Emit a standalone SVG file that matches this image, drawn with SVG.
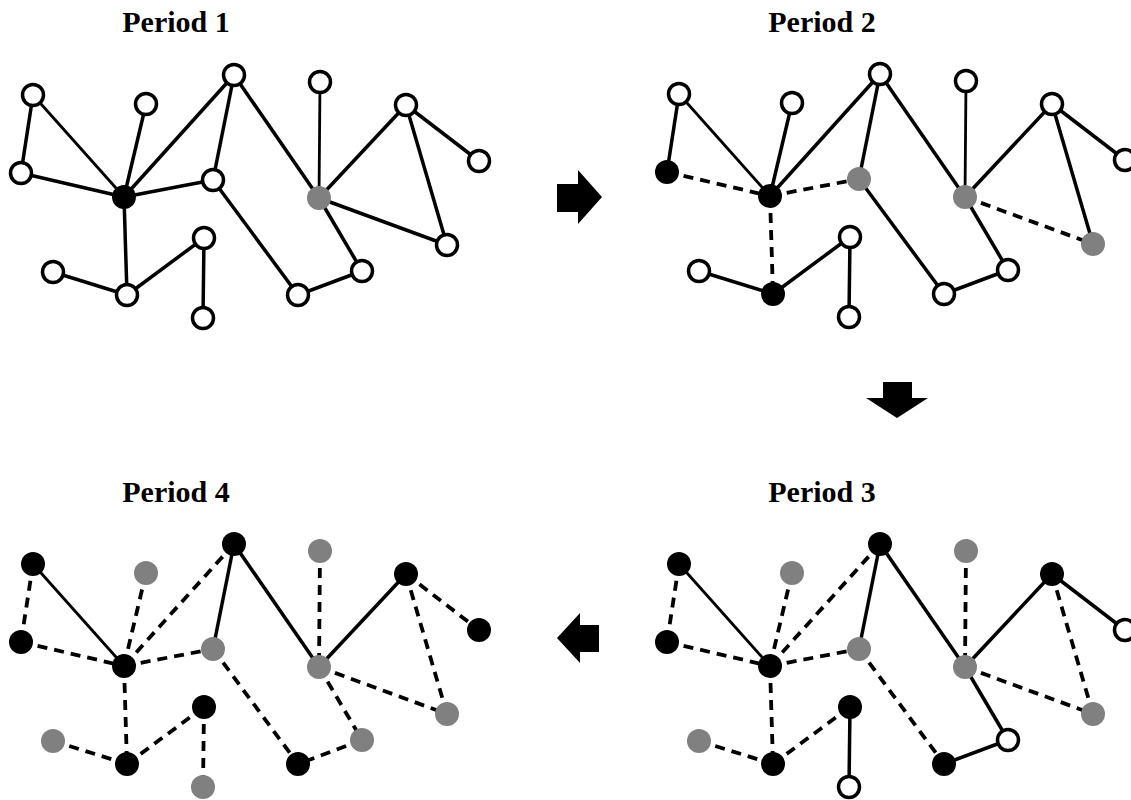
<svg xmlns="http://www.w3.org/2000/svg" width="1131" height="800" viewBox="0 0 1131 800">
<style>
.t{font-family:"Liberation Serif","Times New Roman",serif;font-weight:bold;font-size:30px;fill:#000;text-anchor:middle}
.e line{stroke:#000;stroke-width:3.5;stroke-linecap:butt}
.e line.d{stroke-dasharray:10,7;stroke-width:3.8}
.e line.th{stroke-width:2.8}
.w{fill:#fff;stroke:#000;stroke-width:3.5}
.k{fill:#000}
.g{fill:#808080}
.ar{fill:#000}
</style>
<rect width="1131" height="800" fill="#fff"/>
<text class="t" x="176" y="32">Period 1</text>
<text class="t" x="822" y="32">Period 2</text>
<text class="t" x="822" y="502">Period 3</text>
<text class="t" x="176" y="502">Period 4</text>
<g id="arrows">
<polygon class="ar" points="557,184 578,184 578,170 602,197 578,224 578,212 557,212"/>
<polygon class="ar" points="883,382 912,382 912,398 928,398 897,418 866,398 883,398"/>
<polygon class="ar" points="599,625 580,625 580,613 557,638 580,663 580,652 599,652"/>
</g>
<!-- Period 1 -->
<g id="period1">
<g id="p1-connectors" class="e">
<line x1="33" y1="95" x2="21" y2="173"/>
<line class="th" x1="33" y1="95" x2="124" y2="197"/>
<line x1="21" y1="173" x2="124" y2="197"/>
<line x1="146" y1="104" x2="124" y2="197"/>
<line x1="234" y1="75" x2="124" y2="197"/>
<line x1="234" y1="75" x2="213" y2="180"/>
<line x1="124" y1="197" x2="213" y2="180"/>
<line x1="124" y1="197" x2="127" y2="295"/>
<line x1="53" y1="272" x2="127" y2="295"/>
<line x1="127" y1="295" x2="204" y2="238"/>
<line x1="204" y1="238" x2="203" y2="318"/>
<line x1="234" y1="75" x2="319" y2="198"/>
<line x1="213" y1="180" x2="298" y2="295"/>
<line class="th" x1="320" y1="82" x2="319" y2="198"/>
<line x1="319" y1="198" x2="406" y2="105"/>
<line x1="319" y1="198" x2="447" y2="245"/>
<line x1="406" y1="105" x2="447" y2="245"/>
<line x1="406" y1="105" x2="479" y2="161"/>
<line x1="319" y1="198" x2="362" y2="271"/>
<line x1="362" y1="271" x2="298" y2="295"/>
</g>
<g id="p1-A"><circle class="w" cx="33" cy="95" r="10.5"/></g>
<g id="p1-B"><circle class="w" cx="146" cy="104" r="10.5"/></g>
<g id="p1-C"><circle class="w" cx="234" cy="75" r="10.5"/></g>
<g id="p1-D"><circle class="w" cx="21" cy="173" r="10.5"/></g>
<g id="p1-E"><circle class="k" cx="124" cy="197" r="12"/></g>
<g id="p1-F"><circle class="w" cx="213" cy="180" r="10.5"/></g>
<g id="p1-G"><circle class="w" cx="204" cy="238" r="10.5"/></g>
<g id="p1-H"><circle class="w" cx="53" cy="272" r="10.5"/></g>
<g id="p1-I"><circle class="w" cx="127" cy="295" r="10.5"/></g>
<g id="p1-J"><circle class="w" cx="203" cy="318" r="10.5"/></g>
<g id="p1-K"><circle class="w" cx="320" cy="82" r="10.5"/></g>
<g id="p1-L"><circle class="g" cx="319" cy="198" r="12"/></g>
<g id="p1-M"><circle class="w" cx="406" cy="105" r="10.5"/></g>
<g id="p1-N"><circle class="w" cx="479" cy="161" r="10.5"/></g>
<g id="p1-O"><circle class="w" cx="447" cy="245" r="10.5"/></g>
<g id="p1-P"><circle class="w" cx="362" cy="271" r="10.5"/></g>
<g id="p1-Q"><circle class="w" cx="298" cy="295" r="10.5"/></g>
</g>
<!-- Period 2 -->
<g id="period2" transform="translate(646,-1)">
<g id="p2-connectors" class="e">
<line x1="33" y1="95" x2="21" y2="173"/>
<line class="th" x1="33" y1="95" x2="124" y2="197"/>
<line class="d" x1="21" y1="173" x2="124" y2="197"/>
<line x1="146" y1="104" x2="124" y2="197"/>
<line x1="234" y1="75" x2="124" y2="197"/>
<line x1="234" y1="75" x2="213" y2="180"/>
<line class="d" x1="124" y1="197" x2="213" y2="180"/>
<line class="d" x1="124" y1="197" x2="127" y2="295"/>
<line x1="53" y1="272" x2="127" y2="295"/>
<line x1="127" y1="295" x2="204" y2="238"/>
<line x1="204" y1="238" x2="203" y2="318"/>
<line x1="234" y1="75" x2="319" y2="198"/>
<line x1="213" y1="180" x2="298" y2="295"/>
<line class="th" x1="320" y1="82" x2="319" y2="198"/>
<line x1="319" y1="198" x2="406" y2="105"/>
<line class="d" x1="319" y1="198" x2="447" y2="245"/>
<line x1="406" y1="105" x2="447" y2="245"/>
<line x1="406" y1="105" x2="479" y2="161"/>
<line x1="319" y1="198" x2="362" y2="271"/>
<line x1="362" y1="271" x2="298" y2="295"/>
</g>
<g id="p2-A"><circle class="w" cx="33" cy="95" r="10.5"/></g>
<g id="p2-B"><circle class="w" cx="146" cy="104" r="10.5"/></g>
<g id="p2-C"><circle class="w" cx="234" cy="75" r="10.5"/></g>
<g id="p2-D"><circle class="k" cx="21" cy="173" r="12"/></g>
<g id="p2-E"><circle class="k" cx="124" cy="197" r="12"/></g>
<g id="p2-F"><circle class="g" cx="213" cy="180" r="12"/></g>
<g id="p2-G"><circle class="w" cx="204" cy="238" r="10.5"/></g>
<g id="p2-H"><circle class="w" cx="53" cy="272" r="10.5"/></g>
<g id="p2-I"><circle class="k" cx="127" cy="295" r="12"/></g>
<g id="p2-J"><circle class="w" cx="203" cy="318" r="10.5"/></g>
<g id="p2-K"><circle class="w" cx="320" cy="82" r="10.5"/></g>
<g id="p2-L"><circle class="g" cx="319" cy="198" r="12"/></g>
<g id="p2-M"><circle class="w" cx="406" cy="105" r="10.5"/></g>
<g id="p2-N"><circle class="w" cx="479" cy="161" r="10.5"/></g>
<g id="p2-O"><circle class="g" cx="447" cy="245" r="12"/></g>
<g id="p2-P"><circle class="w" cx="362" cy="271" r="10.5"/></g>
<g id="p2-Q"><circle class="w" cx="298" cy="295" r="10.5"/></g>
</g>
<!-- Period 3 -->
<g id="period3" transform="translate(646,469)">
<g id="p3-connectors" class="e">
<line class="d" x1="33" y1="95" x2="21" y2="173"/>
<line class="th" x1="33" y1="95" x2="124" y2="197"/>
<line class="d" x1="21" y1="173" x2="124" y2="197"/>
<line class="d" x1="146" y1="104" x2="124" y2="197"/>
<line class="d" x1="234" y1="75" x2="124" y2="197"/>
<line x1="234" y1="75" x2="213" y2="180"/>
<line class="d" x1="124" y1="197" x2="213" y2="180"/>
<line class="d" x1="124" y1="197" x2="127" y2="295"/>
<line class="d" x1="53" y1="272" x2="127" y2="295"/>
<line class="d" x1="127" y1="295" x2="204" y2="238"/>
<line x1="204" y1="238" x2="203" y2="318"/>
<line x1="234" y1="75" x2="319" y2="198"/>
<line class="d" x1="213" y1="180" x2="298" y2="295"/>
<line class="d" x1="320" y1="82" x2="319" y2="198"/>
<line x1="319" y1="198" x2="406" y2="105"/>
<line class="d" x1="319" y1="198" x2="447" y2="245"/>
<line class="d" x1="406" y1="105" x2="447" y2="245"/>
<line x1="406" y1="105" x2="479" y2="161"/>
<line x1="319" y1="198" x2="362" y2="271"/>
<line x1="362" y1="271" x2="298" y2="295"/>
</g>
<g id="p3-A"><circle class="k" cx="33" cy="95" r="12"/></g>
<g id="p3-B"><circle class="g" cx="146" cy="104" r="12"/></g>
<g id="p3-C"><circle class="k" cx="234" cy="75" r="12"/></g>
<g id="p3-D"><circle class="k" cx="21" cy="173" r="12"/></g>
<g id="p3-E"><circle class="k" cx="124" cy="197" r="12"/></g>
<g id="p3-F"><circle class="g" cx="213" cy="180" r="12"/></g>
<g id="p3-G"><circle class="k" cx="204" cy="238" r="12"/></g>
<g id="p3-H"><circle class="g" cx="53" cy="272" r="12"/></g>
<g id="p3-I"><circle class="k" cx="127" cy="295" r="12"/></g>
<g id="p3-J"><circle class="w" cx="203" cy="318" r="10.5"/></g>
<g id="p3-K"><circle class="g" cx="320" cy="82" r="12"/></g>
<g id="p3-L"><circle class="g" cx="319" cy="198" r="12"/></g>
<g id="p3-M"><circle class="k" cx="406" cy="105" r="12"/></g>
<g id="p3-N"><circle class="w" cx="479" cy="161" r="10.5"/></g>
<g id="p3-O"><circle class="g" cx="447" cy="245" r="12"/></g>
<g id="p3-P"><circle class="w" cx="362" cy="271" r="10.5"/></g>
<g id="p3-Q"><circle class="k" cx="298" cy="295" r="12"/></g>
</g>
<!-- Period 4 -->
<g id="period4" transform="translate(0,469)">
<g id="p4-connectors" class="e">
<line class="d" x1="33" y1="95" x2="21" y2="173"/>
<line class="th" x1="33" y1="95" x2="124" y2="197"/>
<line class="d" x1="21" y1="173" x2="124" y2="197"/>
<line class="d" x1="146" y1="104" x2="124" y2="197"/>
<line class="d" x1="234" y1="75" x2="124" y2="197"/>
<line x1="234" y1="75" x2="213" y2="180"/>
<line class="d" x1="124" y1="197" x2="213" y2="180"/>
<line class="d" x1="124" y1="197" x2="127" y2="295"/>
<line class="d" x1="53" y1="272" x2="127" y2="295"/>
<line class="d" x1="127" y1="295" x2="204" y2="238"/>
<line class="d" x1="204" y1="238" x2="203" y2="318"/>
<line x1="234" y1="75" x2="319" y2="198"/>
<line class="d" x1="213" y1="180" x2="298" y2="295"/>
<line class="d" x1="320" y1="82" x2="319" y2="198"/>
<line x1="319" y1="198" x2="406" y2="105"/>
<line class="d" x1="319" y1="198" x2="447" y2="245"/>
<line class="d" x1="406" y1="105" x2="447" y2="245"/>
<line class="d" x1="406" y1="105" x2="479" y2="161"/>
<line class="d" x1="319" y1="198" x2="362" y2="271"/>
<line class="d" x1="362" y1="271" x2="298" y2="295"/>
</g>
<g id="p4-A"><circle class="k" cx="33" cy="95" r="12"/></g>
<g id="p4-B"><circle class="g" cx="146" cy="104" r="12"/></g>
<g id="p4-C"><circle class="k" cx="234" cy="75" r="12"/></g>
<g id="p4-D"><circle class="k" cx="21" cy="173" r="12"/></g>
<g id="p4-E"><circle class="k" cx="124" cy="197" r="12"/></g>
<g id="p4-F"><circle class="g" cx="213" cy="180" r="12"/></g>
<g id="p4-G"><circle class="k" cx="204" cy="238" r="12"/></g>
<g id="p4-H"><circle class="g" cx="53" cy="272" r="12"/></g>
<g id="p4-I"><circle class="k" cx="127" cy="295" r="12"/></g>
<g id="p4-J"><circle class="g" cx="203" cy="318" r="12"/></g>
<g id="p4-K"><circle class="g" cx="320" cy="82" r="12"/></g>
<g id="p4-L"><circle class="g" cx="319" cy="198" r="12"/></g>
<g id="p4-M"><circle class="k" cx="406" cy="105" r="12"/></g>
<g id="p4-N"><circle class="k" cx="479" cy="161" r="12"/></g>
<g id="p4-O"><circle class="g" cx="447" cy="245" r="12"/></g>
<g id="p4-P"><circle class="g" cx="362" cy="271" r="12"/></g>
<g id="p4-Q"><circle class="k" cx="298" cy="295" r="12"/></g>
</g>
</svg>
